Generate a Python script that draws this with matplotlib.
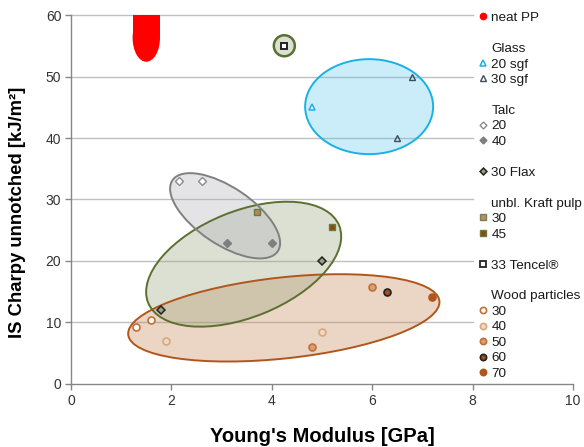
import matplotlib
matplotlib.use('Agg')
import matplotlib.pyplot as plt
import matplotlib.transforms as mtransforms
from matplotlib.patches import Ellipse, Rectangle
from matplotlib.lines import Line2D

plt.rcParams['font.family'] = ['Liberation Sans', 'DejaVu Sans']

# Young's modulus [GPa] and IS Charpy unnotched [kJ/m2] per composite
glass20_x = [4.8]
glass20_y = [45]
glass30_x = [6.8, 6.5]
glass30_y = [50, 40]
talc20_x = [2.15, 2.6]
talc20_y = [33, 33]
talc40_x = [3.1, 4.0]
talc40_y = [23, 23]
flax30_x = [1.8, 5.0]
flax30_y = [12, 20]
kraft30_x = [3.7]
kraft30_y = [28]
kraft45_x = [5.2]
kraft45_y = [25.5]
tencel33_x = [4.25]
tencel33_y = [55]
wood30_x = [1.3, 1.6]
wood30_y = [9.3, 10.4]
wood40_x = [1.9, 5.0]
wood40_y = [7.0, 8.5]
wood50_x = [6.0, 4.8]
wood50_y = [15.8, 6.0]
wood60_x = [6.3]
wood60_y = [14.9]
wood70_x = [7.2]
wood70_y = [14.2]

# neat PP: modulus and lower end of the impact range (runs off the top)
pp_x = 1.5
pp_ymin = 52.4

fig = plt.figure(figsize=(5.84, 4.47), dpi=100)
ax = fig.add_axes([0.1216, 0.141, 0.8594, 0.8254])
ax.set_xlim(0, 10)
ax.set_ylim(0, 60)

# grid only under the plotting part, legend sits on the right
for yv in [10, 20, 30, 40, 50, 60]:
    ax.plot([0, 8], [yv, yv], color='#c0c0c0', lw=1.0, zorder=0, clip_on=False)

def region(cx, cy, w, h, angle, face, alpha, edge, lw=1.4):
    # ellipse sized in pixels, centred on a data point
    trans = fig.dpi_scale_trans + mtransforms.ScaledTranslation(cx, cy, ax.transData)
    ax.add_patch(Ellipse((0, 0), w / 100, h / 100, angle=angle, transform=trans,
                         facecolor=face, alpha=alpha, edgecolor='none', zorder=1))
    ax.add_patch(Ellipse((0, 0), w / 100, h / 100, angle=angle, transform=trans,
                         facecolor='none', edgecolor=edge, lw=lw, zorder=2))

region(4.24, 10.75, 313, 81, 6.2, '#c8885a', 0.35, '#b0561c')
region(3.44, 19.48, 206, 106, 22, '#9aa880', 0.35, '#5b7030')
region(3.07, 27.35, 127, 57, -34, '#b4b4bc', 0.35, '#808080')
region(5.94, 45.1, 128, 95, 0, '#40c0f0', 0.27, '#1ab0e8')
region(4.25, 55.0, 21, 21, 0, '#9aa880', 0.35, '#5b7030', lw=1.8)

# neat PP band
pp_w = 0.546
ax.add_patch(Ellipse((pp_x, pp_ymin + 3.9), pp_w, 7.8, facecolor='red', edgecolor='none', zorder=2))
ax.add_patch(Rectangle((pp_x - pp_w / 2, pp_ymin + 3.9), pp_w, 10, facecolor='red', edgecolor='none', zorder=2))

ms = 5
ax.plot(glass20_x, glass20_y, '^', ms=ms, mfc='white', mec='#1ab0e8', mew=1.1, zorder=3)
ax.plot(glass30_x, glass30_y, '^', ms=ms, mfc='none', mec='#3d4d5a', mew=1.0, zorder=3)
ax.plot(talc20_x, talc20_y, 'D', ms=4, mfc='white', mec='#8c8c8c', mew=1.0, zorder=3)
ax.plot(talc40_x, talc40_y, 'D', ms=4, mfc='#7f7f7f', mec='#7f7f7f', mew=1.0, zorder=3)
ax.plot(flax30_x, flax30_y, 'D', ms=4, mfc='#9aa080', mec='#222222', mew=1.1, zorder=3)
ax.plot(kraft30_x, kraft30_y, 's', ms=ms, mfc='#b08860', mec='#6a7a40', mew=1.0, zorder=3)
ax.plot(kraft45_x, kraft45_y, 's', ms=ms, mfc='#8b4a10', mec='#6a7a40', mew=1.0, zorder=3)
ax.plot(tencel33_x, tencel33_y, 's', ms=ms, mfc='white', mec='#222222', mew=1.4, zorder=3)
ax.plot(wood30_x, wood30_y, 'o', ms=ms, mfc='white', mec='#c07038', mew=1.2, zorder=3)
ax.plot(wood40_x, wood40_y, 'o', ms=ms, mfc='#f0d8c0', mec='#d8a880', mew=1.2, zorder=3)
ax.plot(wood50_x, wood50_y, 'o', ms=ms, mfc='#d8a070', mec='#c07038', mew=1.2, zorder=3)
ax.plot(wood60_x, wood60_y, 'o', ms=ms, mfc='#a0501a', mec='#202020', mew=1.2, zorder=3)
ax.plot(wood70_x, wood70_y, 'o', ms=ms, mfc='#b0561c', mec='#b0561c', mew=1.2, zorder=3)

def mk(marker, mfc, mec, size=4.5, mew=1.0):
    return Line2D([], [], ls='none', marker=marker, ms=size, mfc=mfc, mec=mec, mew=mew)

blank = Line2D([], [], ls='none')
handles = [
    (mk('o', 'red', 'red'), 'neat PP'),
    (blank, ' '),
    (blank, 'Glass'),
    (mk('^', 'white', '#1ab0e8', mew=1.1), '20 sgf'),
    (mk('^', 'white', '#3d4d5a'), '30 sgf'),
    (blank, ' '),
    (blank, 'Talc'),
    (mk('D', 'white', '#8c8c8c', 3.5), '20'),
    (mk('D', '#7f7f7f', '#7f7f7f', 3.5), '40'),
    (blank, ' '),
    (mk('D', '#9aa080', '#222222', 3.5, 1.1), '30 Flax'),
    (blank, ' '),
    (blank, 'unbl. Kraft pulp'),
    (mk('s', '#b09070', '#7a8050'), '30'),
    (mk('s', '#8b4a10', '#6a7a40'), '45'),
    (blank, ' '),
    (mk('s', 'white', '#222222', 4.5, 1.3), '33 Tencel®'),
    (blank, ' '),
    (blank, 'Wood particles'),
    (mk('o', 'white', '#c07038', mew=1.2), '30'),
    (mk('o', '#f0d8c0', '#d8a880', mew=1.2), '40'),
    (mk('o', '#d8a070', '#c07038', mew=1.2), '50'),
    (mk('o', '#a0501a', '#202020', mew=1.2), '60'),
    (mk('o', '#b0561c', '#b0561c', mew=1.2), '70'),
]
leg = ax.legend([h for h, _ in handles], [t for _, t in handles],
                loc='upper left', bbox_to_anchor=(0.812, 1.009), frameon=False,
                fontsize=9.7, labelspacing=0.225, handlelength=0.6, handletextpad=0.35,
                borderpad=0.0, borderaxespad=0.0)
for t in leg.get_texts():
    t.set_color('#1a1a1a')

for s in ['top', 'right']:
    ax.spines[s].set_visible(False)
for s in ['left', 'bottom']:
    ax.spines[s].set_color('#868686')
    ax.spines[s].set_linewidth(1.0)

ax.set_xticks([0, 2, 4, 6, 8, 10])
ax.set_yticks([0, 10, 20, 30, 40, 50, 60])
ax.tick_params(direction='out', length=4, width=1.0, color='#868686',
               labelsize=10, labelcolor='#333333', pad=3)

ax.set_xlabel("Young's Modulus [GPa]", fontsize=14.5, fontweight='bold', labelpad=14)
ax.set_ylabel('IS Charpy unnotched [kJ/m²]', fontsize=13.3, fontweight='bold')
ax.yaxis.set_label_coords(-0.089, 0.466)

fig.savefig('out.png', dpi=100)
